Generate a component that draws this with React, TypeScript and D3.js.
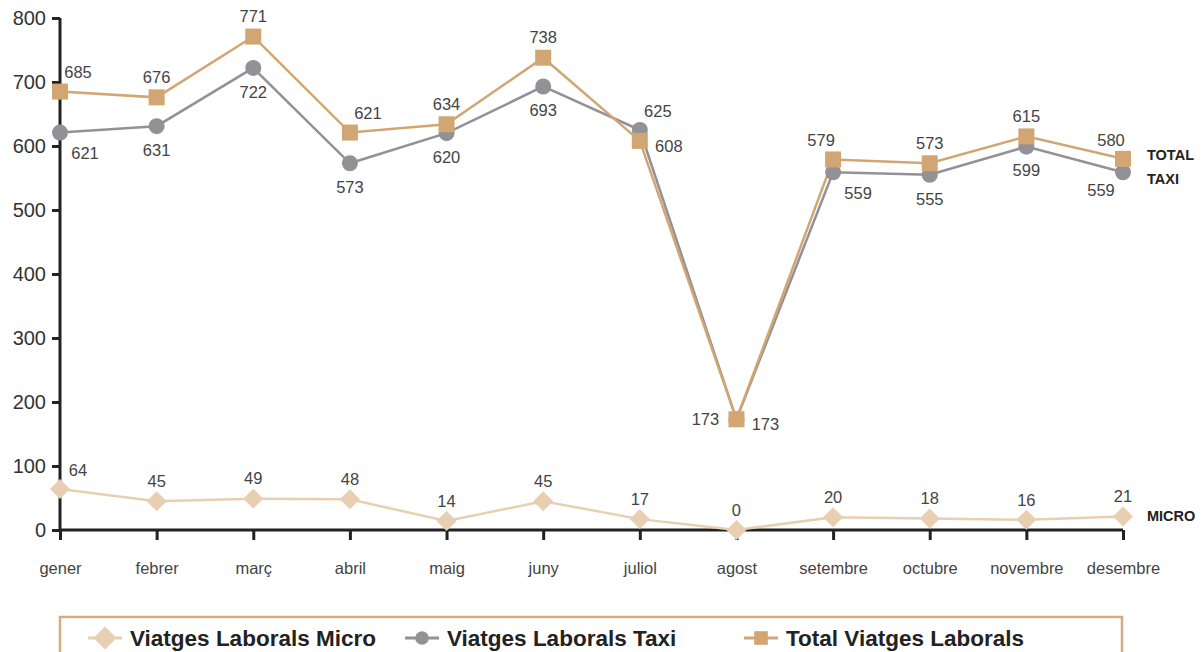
import * as d3 from 'd3'
import { useEffect, useRef } from 'react'

const months = ['gener', 'febrer', 'març', 'abril', 'maig', 'juny', 'juliol', 'agost', 'setembre', 'octubre', 'novembre', 'desembre']
const totalValues = [685, 676, 771, 621, 634, 738, 608, 173, 579, 573, 615, 580]
const taxiValues = [621, 631, 722, 573, 620, 693, 625, 173, 559, 555, 599, 559]
const microValues = [64, 45, 49, 48, 14, 45, 17, 0, 20, 18, 16, 21]
const yTicks = [0, 100, 200, 300, 400, 500, 600, 700, 800]

// where each value label sits relative to its point
const totalLabelPos = ['ar', 'a', 'a', 'ar', 'a', 'a', 'r', 'r', 'al', 'a', 'a', 'al']
const taxiLabelPos = ['br', 'b', 'b', 'b', 'b', 'b', 'ar', 'l', 'br', 'b', 'b', 'bl']
const microLabelPos = ['ar', 'a', 'a', 'a', 'a', 'a', 'a', 'a', 'a', 'a', 'a', 'a']

const TOTAL_COLOR = '#d2a673'
const TAXI_COLOR = '#929296'
const MICRO_COLOR = '#e8cfb1'

const offsets = {
  a: [0, -20],
  b: [0, 24],
  r: [29, 5],
  l: [-31, 0],
  ar: [18, -19],
  al: [-12, -19],
  br: [25, 21],
  bl: [-22, 18],
}

const App = () => {
  const ref = useRef(null)

  useEffect(() => {
    const width = 1203
    const height = 652
    const svg = d3.select(ref.current)
    svg.selectAll('*').remove()
    svg.attr('width', width).attr('height', height)

    const font = '"Liberation Sans", Arial, Helvetica, sans-serif'

    const x = d3.scalePoint().domain(months).range([60, 1123])
    const y = d3.scaleLinear().domain([0, 800]).range([530, 18])

    // y axis
    const yAxis = svg
      .append('g')
      .attr('transform', 'translate(60,0)')
      .call(d3.axisLeft(y).tickValues(yTicks).tickSize(8).tickPadding(6))
    yAxis.select('.domain').attr('stroke', '#222').attr('stroke-width', 3).attr('d', `M0,${y(800)}V${y(0)}`)
    yAxis.selectAll('.tick line').attr('stroke', '#222').attr('stroke-width', 3)
    yAxis
      .selectAll('.tick text')
      .attr('fill', '#333')
      .attr('font-size', 20)
      .attr('font-family', font)

    // x axis
    const xAxis = svg
      .append('g')
      .attr('transform', `translate(0,${y(0)})`)
      .call(d3.axisBottom(x).tickSize(10).tickPadding(22))
    xAxis.select('.domain').attr('stroke', '#222').attr('stroke-width', 3).attr('d', `M${x('gener')},0H${x('desembre')}`)
    xAxis.selectAll('.tick line').attr('stroke', '#222').attr('stroke-width', 3)
    xAxis
      .selectAll('.tick text')
      .attr('fill', '#444')
      .attr('font-size', 16.5)
      .attr('font-family', font)

    const line = d3
      .line()
      .x((d, i) => x(months[i]))
      .y((d) => y(d))

    const series = [
      { values: microValues, color: MICRO_COLOR, shape: 'diamond', pos: microLabelPos, tag: 'MICRO' },
      { values: taxiValues, color: TAXI_COLOR, shape: 'circle', pos: taxiLabelPos, tag: 'TAXI' },
      { values: totalValues, color: TOTAL_COLOR, shape: 'square', pos: totalLabelPos, tag: 'TOTAL' },
    ]

    const drawMarker = (g, shape, color, cx, cy, s) => {
      if (shape === 'circle') {
        g.append('circle').attr('cx', cx).attr('cy', cy).attr('r', 8 * s).attr('fill', color)
      } else if (shape === 'square') {
        g.append('rect')
          .attr('x', cx - 8 * s)
          .attr('y', cy - 8 * s)
          .attr('width', 16 * s)
          .attr('height', 16 * s)
          .attr('fill', color)
      } else {
        const r = 10 * s
        g.append('path')
          .attr('d', `M${cx},${cy - r}L${cx + r},${cy}L${cx},${cy + r}L${cx - r},${cy}Z`)
          .attr('fill', color)
      }
    }

    series.forEach((s) => {
      svg
        .append('path')
        .datum(s.values)
        .attr('d', line)
        .attr('fill', 'none')
        .attr('stroke', s.color)
        .attr('stroke-width', 2.5)
    })

    series.forEach((s) => {
      const g = svg.append('g')
      s.values.forEach((v, i) => {
        drawMarker(g, s.shape, s.color, x(months[i]), y(v), 1)
        const [dx, dy] = offsets[s.pos[i]]
        g.append('text')
          .attr('x', x(months[i]) + dx)
          .attr('y', y(v) + dy)
          .attr('dy', '0.35em')
          .attr('text-anchor', 'middle')
          .attr('font-size', 16.5)
          .attr('font-family', font)
          .attr('fill', '#444')
          .text(v)
      })
    })

    // series tags at the right
    const tagY = { TOTAL: 155, TAXI: 179, MICRO: 516 }
    series.forEach((s) => {
      svg
        .append('text')
        .attr('x', 1147)
        .attr('y', tagY[s.tag])
        .attr('dy', '0.35em')
        .attr('font-size', 14.5)
        .attr('font-weight', 'bold')
        .attr('font-family', font)
        .attr('fill', '#222')
        .text(s.tag)
    })

    // legend
    svg
      .append('rect')
      .attr('x', 60)
      .attr('y', 617)
      .attr('width', 1062)
      .attr('height', 60)
      .attr('fill', 'none')
      .attr('stroke', '#d6ab7f')
      .attr('stroke-width', 2.5)

    const legendItems = [
      { label: 'Viatges Laborals Micro', color: MICRO_COLOR, shape: 'diamond', x: 88 },
      { label: 'Viatges Laborals Taxi', color: TAXI_COLOR, shape: 'circle', x: 405 },
      { label: 'Total Viatges Laborals', color: TOTAL_COLOR, shape: 'square', x: 744 },
    ]
    legendItems.forEach((it) => {
      const g = svg.append('g')
      g.append('line')
        .attr('x1', it.x)
        .attr('x2', it.x + 34)
        .attr('y1', 638)
        .attr('y2', 638)
        .attr('stroke', it.color)
        .attr('stroke-width', 3)
      drawMarker(g, it.shape, it.color, it.x + 17, 638, it.shape === 'diamond' ? 1.15 : 0.85)
      g.append('text')
        .attr('x', it.x + 42)
        .attr('y', 638)
        .attr('dy', '0.35em')
        .attr('font-size', 22.5)
        .attr('font-weight', 'bold')
        .attr('font-family', font)
        .attr('fill', '#222')
        .text(it.label)
    })
  }, [])

  return (
    <div style={{ position: 'absolute', left: 0, top: 0 }}>
      <svg ref={ref} style={{ display: 'block' }}></svg>
    </div>
  )
}

export default App
